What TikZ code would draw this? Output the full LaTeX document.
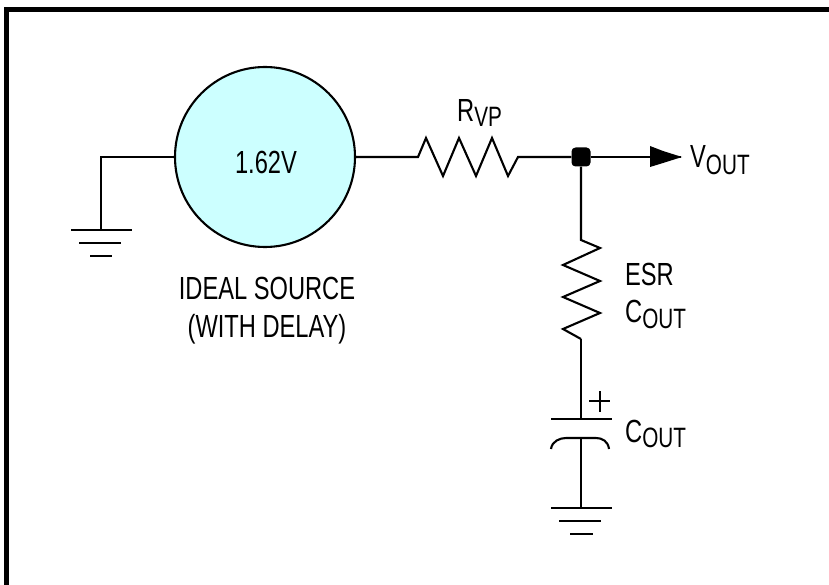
\documentclass[tikz,border=0pt]{standalone}
\usepackage{fontspec}
\setmainfont{Liberation Sans}
\usetikzlibrary{positioning}
\newcommand{\lowsub}[2]{{\fontsize{28}{30}\selectfont\raisebox{-#2pt}{#1}}}

\begin{document}
\begin{tikzpicture}[
	x=1pt, y=-1pt,
	wire/.style={line width=2.1pt},
	source/.style={circle, draw, line width=2.1pt, fill={rgb,255:red,204;green,255;blue,255}, minimum size=180pt, inner sep=0pt},
	lbl/.style={inner sep=0pt, xscale=.74, font=\fontsize{32}{38}\selectfont, align=center},
	dotnode/.style={fill=black, rounded corners=4pt, minimum size=19pt, inner sep=0pt}
	]
	\useasboundingbox (0,0) rectangle (829,585);
	\draw[line width=5pt] (6.5,585) -- (6.5,9.5) -- (829,9.5);

	\node[source] (src) at (265,157) {};
	\node[lbl] (srcval) at (266,162) {1.62V};
	\node[lbl] (srctxt) at (267,311) {IDEAL SOURCE\\(WITH DELAY)};

	% ground of the source
	\coordinate (gnda) at (101,230);
	\draw[wire] (src.west) -| (gnda);
	\draw[wire] (71,230) -- (132,230) (79,243) -- (121,243) (90,256) -- (112,256);

	% series resistor
	\coordinate (rvpa) at (418,157);
	\coordinate (rvpb) at (518,157);
	\node[dotnode] (junc) at (581,157) {};
	\draw[wire] (src.east) -- (rvpa) -- (426,138) -- (443,176) -- (459,138) -- (476,176) -- (492,138) -- (508,176) -- (rvpb) -- (junc);
	\node[lbl, anchor=base west] (rvp) at (457,122) {R\lowsub{VP}{5}};

	% output
	\node[lbl, anchor=base west] (vout) at (690,168) {V\lowsub{OUT}{7}};
	\coordinate (arrtip) at (681,157);
	\draw[wire] (junc) -- (arrtip);
	\fill (650,146) -- (663,151) -- (682,157) -- (663,163) -- (650,167) -- cycle;

	% ESR
	\coordinate (esra) at (581,240);
	\coordinate (esrb) at (581,339);
	\draw[wire] (junc) -- (esra) -- (600,248) -- (563,265) -- (600,281) -- (563,297) -- (600,313) -- (563,329) -- (esrb);
	\node[lbl, anchor=base west] (esr) at (625,285) {ESR};
	\node[lbl, anchor=base west] (cout) at (625,322) {C\lowsub{OUT}{6}};

	% output capacitor
	\coordinate (capa) at (581,419);
	\coordinate (capb) at (581,438);
	\coordinate (gndb) at (581,508);
	\draw[wire] (esrb) -- (capa);
	\draw[wire] (551,419) -- (612,419);
	\draw[wire] (551,449) .. controls (552,441) and (560,438) .. (566,438) -- (596,438) .. controls (602,438) and (608,441) .. (609,449);
	\draw[wire] (capb) -- (gndb);
	\draw[wire] (551,508) -- (612,508) (559,521) -- (601,521) (570,534) -- (593,534);
	\draw[wire] (589,401) -- (610,401) (600,391) -- (600,412);
	\node[lbl, anchor=base west] (coutb) at (625,442) {C\lowsub{OUT}{5}};
\end{tikzpicture}
\end{document}
